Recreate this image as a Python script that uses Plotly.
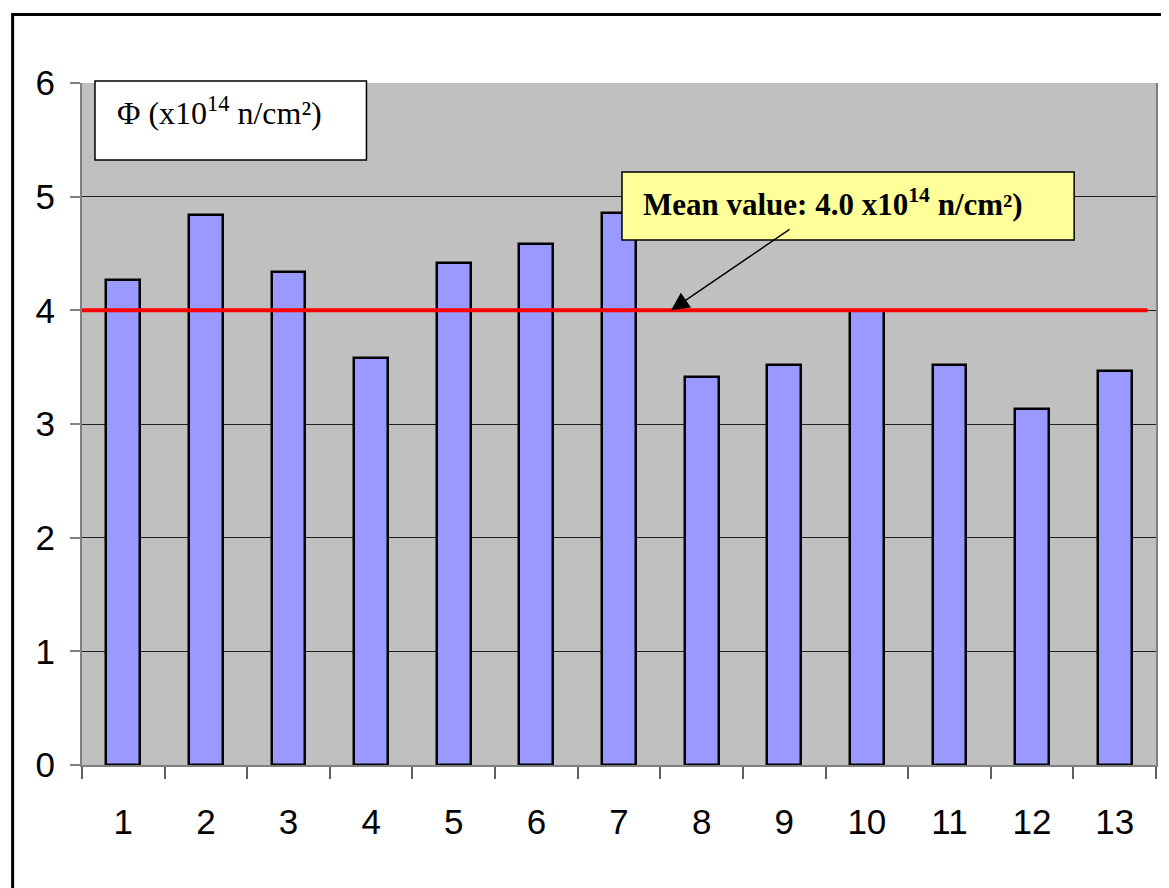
import plotly.graph_objects as go

# ---- data ----
positions = list(range(1, 14))
tick_labels = [str(p) for p in positions]
fluence = [4.27, 4.84, 4.34, 3.58, 4.42, 4.58, 4.86, 3.41, 3.52, 3.99, 3.52, 3.13, 3.47]
mean_value = 4.0
y_ticks = [0, 1, 2, 3, 4, 5, 6]

# ---- layout geometry (pixels in the browser window; page body has an 8px offset) ----
OFF = 8
W, H = 1169 - OFF, 888 - OFF
L, R, T, B = 82 - OFF, 11, 83 - OFF, 123
PW, PH = W - L - R, H - T - B


def px(x):
    return (x - OFF - L) / PW


def py(y):
    return (H - B - (y - OFF)) / PH


fig = go.Figure()
fig.add_trace(go.Bar(
    x=positions, y=fluence, width=0.41,
    marker=dict(color="#9999FF", line=dict(color="black", width=2.5)),
    hoverinfo="x+y",
))

shapes = [
    # mean line
    dict(type="line", xref="paper", yref="y", x0=0, x1=0.992, y0=mean_value, y1=mean_value,
         line=dict(color="#FF0000", width=4), layer="above"),
    # label box
    dict(type="rect", xref="paper", yref="paper", x0=px(95), x1=px(367), y0=py(81), y1=py(160),
         fillcolor="white", line=dict(color="black", width=1.5), layer="above"),
    # mean label box
    dict(type="rect", xref="paper", yref="paper", x0=px(623), x1=px(1076), y0=py(172), y1=py(240),
         fillcolor="#FFFF99", line=dict(color="black", width=1.5), layer="above"),
    # outer frame
    dict(type="rect", xref="paper", yref="paper", x0=px(12.5), x1=px(1190), y0=py(14.5), y1=py(910),
         line=dict(color="black", width=3), fillcolor="rgba(0,0,0,0)", layer="above"),
]

annotations = [
    dict(xref="paper", yref="paper", x=px(115), y=py(111), xanchor="left", yanchor="middle",
         text="Φ (x10<sup>14</sup> n/cm²)", showarrow=False,
         font=dict(family="Liberation Serif", size=32, color="black")),
    dict(xref="paper", yref="paper", x=px(642), y=py(203), xanchor="left", yanchor="middle",
         text="<b>Mean value: 4.0 x10<sup>14</sup> n/cm²)</b>", showarrow=False,
         font=dict(family="Liberation Serif", size=31, color="black")),
    dict(xref="x", yref="y", x=7.63, y=mean_value, text="", showarrow=True,
         ax=120, ay=-82, arrowhead=2, arrowsize=2.4, arrowwidth=1.5, arrowcolor="black",
         standoff=0, startstandoff=0),
]

fig.update_layout(
    width=W, height=H,
    margin=dict(l=L, r=R, t=T, b=B, pad=0),
    paper_bgcolor="white", plot_bgcolor="#C0C0C0",
    showlegend=False, bargap=0,
    shapes=shapes, annotations=annotations,
    font=dict(family="Liberation Sans", size=34, color="black"),
)
fig.update_xaxes(
    range=[0.5, 13.5], tickmode="array", tickvals=positions, ticktext=tick_labels,
    ticks="", showgrid=False, zeroline=False,
    showline=True, linecolor="#808080", linewidth=2,
    ticklabelstandoff=25,
    tickfont=dict(family="Liberation Sans", size=35, color="black"),
    minor=dict(tickmode="linear", tick0=0.5, dtick=1, ticks="outside", ticklen=12,
               tickcolor="#606060", tickwidth=1.5, showgrid=False),
)
fig.update_yaxes(
    range=[0, 6], tickmode="array", tickvals=y_ticks,
    ticks="outside", ticklen=10, tickcolor="#808080", tickwidth=1.5,
    showgrid=True, gridcolor="#202020", gridwidth=1, zeroline=False,
    showline=True, linecolor="#808080", linewidth=2, mirror=True,
    ticklabelstandoff=8,
    tickfont=dict(family="Liberation Sans", size=35, color="black"),
)

fig.write_html("out.html")
